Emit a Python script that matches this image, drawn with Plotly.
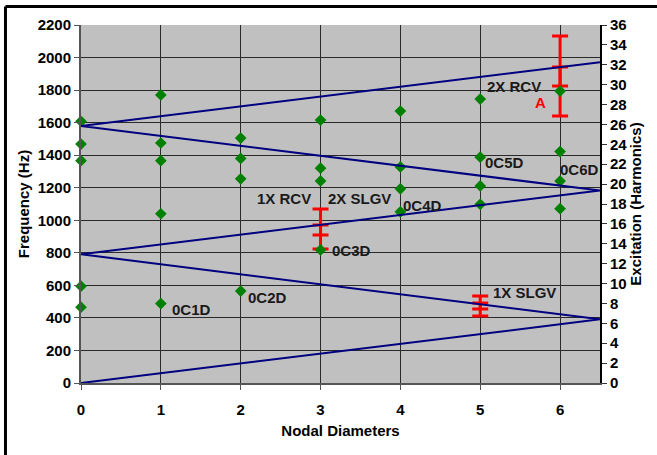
import plotly.graph_objects as go

# ---- data ----
nd_x = [0, 0, 0, 0, 0,
        1, 1, 1, 1, 1,
        2, 2, 2, 2,
        3, 3, 3, 3,
        4, 4, 4, 4,
        5, 5, 5, 5,
        6, 6, 6, 6]
freq_hz = [1608, 1468, 1366, 595, 466,
           1770, 1475, 1366, 1040, 488,
           1505, 1380, 1255, 565,
           1616, 1320, 1242, 818,
           1671, 1328, 1193, 1052,
           1745, 1388, 1211, 1098,
           1794, 1422, 1241, 1071]

# excitation (engine order) zig-zag lines, harmonics
exc_x = [0, 6.5, 0, 6.5, 0, 6.5]
exc_h = [0, 6.4, 12.95, 19.35, 25.85, 32.25]

# red measured ranges
rng_x = [3, 5, 6]
rng_outer_lo = [823, 412, 1641]
rng_outer_hi = [1069, 535, 2132]
rng_inner_lo = [909, 455, 1825]
rng_inner_hi = [971, 492, 1942]

labels = ["2X RCV", "1X RCV", "2X SLGV", "0C4D", "0C3D", "0C2D",
          "0C1D", "1X SLGV", "0C5D", "0C6D"]
label_x = [5.425, 2.54, 3.49, 4.28, 3.39, 2.33, 1.39, 5.55, 5.31, 6.24]
label_y = [1825, 1131, 1131, 1088, 814, 528, 452, 556, 1358, 1312]

FONT = "Liberation Sans, Arial, sans-serif"
FS = 15

fig = go.Figure()

fig.add_trace(go.Scatter(
    x=exc_x, y=exc_h, yaxis="y2", mode="lines",
    line=dict(color="#000080", width=2), hoverinfo="skip", showlegend=False))

outer_c = [(a + b) / 2 for a, b in zip(rng_outer_lo, rng_outer_hi)]
outer_e = [(b - a) / 2 for a, b in zip(rng_outer_lo, rng_outer_hi)]
inner_c = [(a + b) / 2 for a, b in zip(rng_inner_lo, rng_inner_hi)]
inner_e = [(b - a) / 2 for a, b in zip(rng_inner_lo, rng_inner_hi)]

for c, e in ((outer_c, outer_e), (inner_c, inner_e)):
    fig.add_trace(go.Scatter(
        x=rng_x, y=c, mode="markers", marker=dict(size=1, opacity=0),
        error_y=dict(type="data", array=e, visible=True, color="#FF0000",
                     thickness=3, width=8),
        showlegend=False, hoverinfo="skip"))

fig.add_trace(go.Scatter(
    x=nd_x, y=freq_hz, mode="markers", cliponaxis=False,
    marker=dict(symbol="diamond", size=9, color="#008000"),
    showlegend=False))

for t, x, y in zip(labels, label_x, label_y):
    fig.add_annotation(x=x, y=y, text="<b>%s</b>" % t, showarrow=False,
                       font=dict(family=FONT, size=FS, color="#1a1a1a"),
                       xanchor="center", yanchor="middle")
fig.add_annotation(x=5.76, y=1721, text="<b>A</b>", showarrow=False,
                   font=dict(family=FONT, size=FS, color="#FF0000"))

# outer frame (left & top only visible)
fig.add_shape(type="line", xref="paper", yref="paper",
              x0=-0.1455, x1=1.2, y0=1.0517, y1=1.0517,
              line=dict(color="black", width=3))
fig.add_shape(type="line", xref="paper", yref="paper",
              x0=-0.1455, x1=-0.1455, y0=-0.3, y1=1.0517,
              line=dict(color="black", width=3))

tickfont = dict(family=FONT, size=FS, color="black")
fig.update_layout(
    width=657, height=455,
    margin=dict(l=81, r=57, t=25, b=72),
    paper_bgcolor="white", plot_bgcolor="#C0C0C0",
    font=dict(family=FONT, size=FS, color="black"),
    xaxis=dict(range=[0, 6.5], tickvals=[0, 1, 2, 3, 4, 5, 6],
               ticktext=["<b>%d</b>" % v for v in range(7)],
               showgrid=True, gridcolor="#2a2a2a", gridwidth=1,
               zeroline=False, showline=True, linecolor="#555555", linewidth=2,
               ticks="outside", ticklen=5, tickcolor="#555555",
               ticklabelstandoff=7, tickfont=tickfont,
               title=dict(text="<b>Nodal Diameters</b>", standoff=8,
                          font=dict(family=FONT, size=FS))),
    yaxis=dict(range=[0, 2200], tickvals=list(range(0, 2201, 200)),
               ticktext=["<b>%d</b>" % v for v in range(0, 2201, 200)],
               showgrid=True, gridcolor="#2a2a2a", gridwidth=1,
               zeroline=False, showline=True, linecolor="#555555", linewidth=2,
               ticks="outside", ticklen=5, tickcolor="#555555",
               tickfont=tickfont,
               title=dict(text="<b>Frequency (Hz)</b>", standoff=4,
                          font=dict(family=FONT, size=FS))),
    yaxis2=dict(range=[0, 36], tickvals=list(range(0, 37, 2)),
                ticktext=["<b>%d</b>" % v for v in range(0, 37, 2)],
                overlaying="y", side="right", showgrid=False, zeroline=False,
                showline=True, linecolor="black", linewidth=2,
                ticks="outside", ticklen=5, tickcolor="#333333",
                tickfont=tickfont,
                title=dict(text="<b>Excitation (Harmonics)</b>", standoff=2,
                           font=dict(family=FONT, size=FS))),
)

fig.write_html("out.html")
